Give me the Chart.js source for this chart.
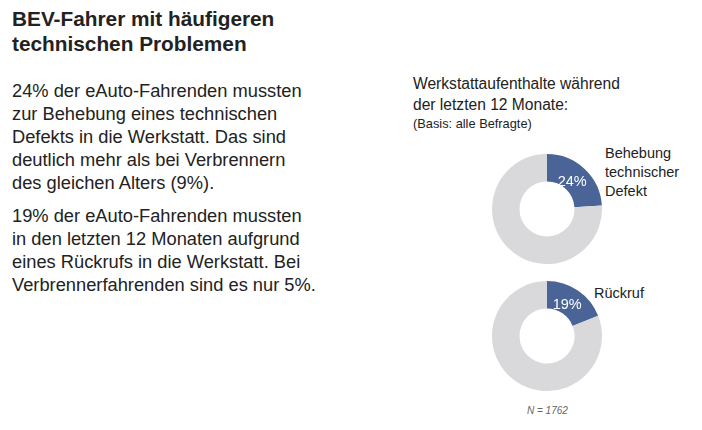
<!DOCTYPE html>
<html><head><meta charset="utf-8">
<script src="https://cdn.jsdelivr.net/npm/chart.js@4"></script>
<style>
html,body{margin:0;padding:0;background:#fff;width:702px;height:430px;overflow:hidden;font-family:"Liberation Sans",Arial,sans-serif;color:#222;}
.t{position:absolute;white-space:nowrap;}
.title{font-weight:bold;font-size:20.8px;line-height:25px;left:12px;top:6px;}
.body{font-size:18.3px;line-height:23px;left:12px;}
.sub{font-size:15.6px;line-height:21px;left:413px;top:73px;}
.basis{font-size:12.8px;left:413px;top:116px;}
.lab{font-size:14.5px;line-height:19px;}
.n{font-size:10px;font-style:italic;color:#666;left:527px;top:405px;}
canvas{position:absolute;}
</style></head><body>
<div class="t title">BEV-Fahrer mit häufigeren<br>technischen Problemen</div>
<div class="t body" style="top:79px">24% der eAuto-Fahrenden mussten<br>zur Behebung eines technischen<br>Defekts in die Werkstatt. Das sind<br>deutlich mehr als bei Verbrennern<br>des gleichen Alters (9%).</div>
<div class="t body" style="top:204px">19% der eAuto-Fahrenden mussten<br>in den letzten 12 Monaten aufgrund<br>eines Rückrufs in die Werkstatt. Bei<br>Verbrennerfahrenden sind es nur 5%.</div>
<div class="t sub">Werkstattaufenthalte während<br>der letzten 12 Monate:</div>
<div class="t basis">(Basis: alle Befragte)</div>
<div class="t lab" style="left:605px;top:144px">Behebung<br>technischer<br>Defekt</div>
<div class="t lab" style="left:594px;top:284px">Rückruf</div>
<div class="t n">N = 1762</div>
<canvas id="c0" width="110" height="110" style="left:492px;top:154px;width:110px;height:110px"></canvas>
<canvas id="c1" width="110" height="110" style="left:492px;top:281px;width:110px;height:110px"></canvas>
<script>
const categories = ['Behebung technischer Defekt', 'Rückruf'];
const shareValues = [24, 19];
const restValues = [76, 81];
const labelPlugin = {
  id: 'pctLabel',
  afterDatasetsDraw(chart) {
    const ctx = chart.ctx;
    const arc = chart.getDatasetMeta(0).data[0];
    const p = arc.tooltipPosition();
    ctx.save();
    ctx.fillStyle = '#ffffff';
    ctx.font = '14.5px "Liberation Sans", Arial, sans-serif';
    ctx.textAlign = 'center';
    ctx.textBaseline = 'middle';
    ctx.fillText(chart.data.datasets[0].data[0] + '%', p.x - 3, p.y + 3);
    ctx.restore();
  }
};
categories.forEach((cat, i) => {
  new Chart(document.getElementById('c' + i), {
    type: 'doughnut',
    data: {
      labels: [cat, 'Rest'],
      datasets: [{
        data: [shareValues[i], restValues[i]],
        backgroundColor: ['#4a6497', '#d9d9db'],
        borderWidth: 0
      }]
    },
    options: {
      responsive: false,
      animation: false,
      cutout: '50%',
      layout: {padding: 0},
      plugins: {legend: {display: false}, tooltip: {enabled: false}}
    },
    plugins: [labelPlugin]
  });
});
</script>
</body></html>
